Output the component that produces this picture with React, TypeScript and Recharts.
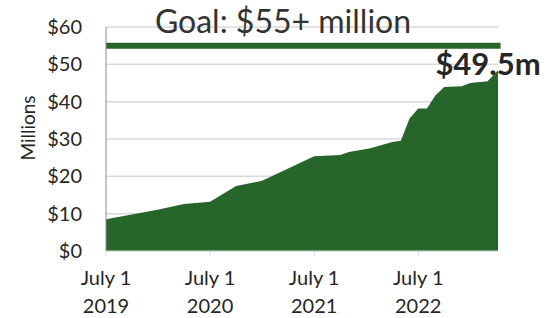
import {
  ComposedChart,
  Area,
  XAxis,
  YAxis,
  CartesianGrid,
  ReferenceLine,
} from "recharts";

// months since July 1, 2019
const months = [0, 5.8, 9, 12, 15, 18, 24, 27, 28, 30.5, 33, 34, 35, 36, 37, 38, 39, 41, 42, 44, 45.2];
// cumulative raised, $ millions
const raised = [8.5, 11.0, 12.6, 13.2, 17.4, 18.8, 25.4, 25.7, 26.5, 27.5, 29.2, 29.5, 35.5, 38.2, 38.2, 41.7, 43.9, 44.1, 45.0, 45.5, 48.4];

const yTicks = [0, 10, 20, 30, 40, 50, 60];
const xTicks = [0, 12, 24, 36];
const xTickYears = ["2019", "2020", "2021", "2022"];
const goal = 55;
const lastLabel = "$49.5m";

const data = months.map((m, i) => ({ m, v: raised[i] }));

const FONT = "Lato, 'Open Sans', sans-serif";
const GREEN = "#27662a";

function XTick(props: any) {
  const { x, payload } = props;
  const i = xTicks.indexOf(payload.value);
  return (
    <g>
      <text x={x} y={285} textAnchor="middle" fontSize={20} fill="#262626" fontFamily={FONT}>
        July 1
      </text>
      <text x={x} y={313} textAnchor="middle" fontSize={20} fill="#262626" fontFamily={FONT}>
        {xTickYears[i]}
      </text>
    </g>
  );
}

function EndLabel(props: any) {
  const { x, y, index } = props;
  if (index !== data.length - 1) return null;
  return (
    <text
      x={x - 10}
      y={y + 5}
      textAnchor="middle"
      fontSize={31}
      fontWeight={700}
      fill="#262626"
      fontFamily={FONT}
    >
      {lastLabel}
    </text>
  );
}

export default function App() {
  return (
    <div style={{ position: "absolute", left: 0, top: 0, width: 557, height: 318, background: "#fff" }}>
      <ComposedChart
        width={557}
        height={318}
        data={data}
        margin={{ top: 27, right: 59, bottom: 0, left: 0 }}
      >
        <CartesianGrid vertical={false} stroke="#d9d9d9" strokeWidth={1.5} />
        <XAxis
          dataKey="m"
          type="number"
          domain={[0, 45.2]}
          ticks={xTicks}
          height={67}
          stroke="#d9d9d9"
          tickSize={5}
          tick={<XTick />}
          interval={0}
        />
        <YAxis
          domain={[0, 60]}
          ticks={yTicks}
          width={106}
          stroke="#8c8c8c"
          tickLine={false}
          tickSize={0}
          tickMargin={24}
          tickFormatter={(v: number) => `$${v}`}
          tick={{ fontSize: 20, fill: "#262626", fontFamily: FONT }}
        />
        <Area
          type="linear"
          dataKey="v"
          stroke="none"
          fill={GREEN}
          fillOpacity={1}
          isAnimationActive={false}
          label={<EndLabel />}
        />
        <ReferenceLine
          segment={[
            { x: 0, y: goal },
            { x: 45.5, y: goal },
          ]}
          stroke={GREEN}
          strokeWidth={6}
          ifOverflow="visible"
        />
      </ComposedChart>
      <svg
        width={557}
        height={318}
        style={{ position: "absolute", left: 0, top: 0, pointerEvents: "none" }}
      >
        <text x={283} y={33} textAnchor="middle" fontSize={32} fill="#333" fontFamily={FONT}>
          Goal: $55+ million
        </text>
        <text
          x={0}
          y={0}
          transform="translate(35,128) rotate(-90)"
          textAnchor="middle"
          fontSize={19}
          fill="#262626"
          fontFamily={FONT}
        >
          Millions
        </text>
      </svg>
    </div>
  );
}
